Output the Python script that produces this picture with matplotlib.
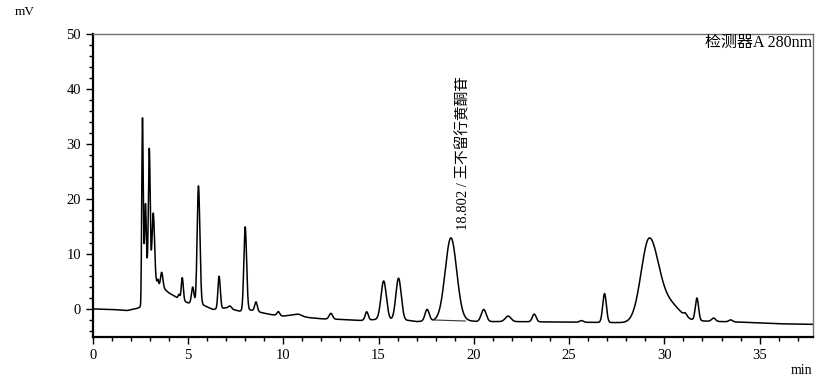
import numpy as np
import matplotlib
matplotlib.use("Agg")
import matplotlib.pyplot as plt
from matplotlib.ticker import MultipleLocator

# ---- data ----
# baseline drift knots (min, mV)
base_t = [0.0, 1.0, 1.8, 2.35, 2.52, 2.62, 3.0, 3.3, 3.6, 4.0, 4.5, 5.0, 5.4, 5.8, 6.3,
          7.0, 7.7, 8.3, 8.9, 9.3, 10.0, 10.5, 11.4, 12.0, 13.0, 14.0, 15.0, 16.6, 17.0,
          18.0, 19.6, 20.2, 22.0, 25.0, 28.0, 30.0, 32.0, 34.0, 36.0, 37.8]
base_v = [0.1, 0.0, -0.2, 0.2, 0.5, 7.0, 7.5, 5.0, 4.2, 3.0, 2.0, 1.2, 1.0, 0.8, 0.0,
          0.3, -0.3, -0.1, -0.6, -0.9, -1.2, -1.0, -1.5, -1.7, -1.8, -2.0, -1.8, -2.0, -2.2,
          -2.0, -2.0, -2.2, -2.2, -2.3, -2.4, -2.3, -2.1, -2.3, -2.6, -2.7]

# peak table: retention time (min), height above baseline (mV), left / right width (min)
peak_rt = [2.61, 2.77, 2.97, 3.18, 3.42, 3.62, 4.53, 4.70, 5.25, 5.55, 6.63, 7.20,
           8.00, 8.57, 9.74, 10.80, 12.50, 14.38, 15.27, 16.05, 17.55, 18.80, 20.52,
           21.80, 23.17, 25.65, 26.86, 29.20, 30.30, 31.10, 31.71, 32.58, 33.48]
peak_h = [28.3, 12.0, 21.8, 11.5, 0.8, 2.6, 0.8, 4.1, 3.0, 21.5, 5.9, 0.5,
          15.2, 1.7, 0.7, 0.3, 1.05, 1.5, 7.0, 7.6, 2.1, 15.0, 2.2,
          1.0, 1.4, 0.3, 5.25, 14.9, 3.0, 0.5, 4.1, 0.6, 0.35]
peak_wl = [0.035, 0.040, 0.045, 0.060, 0.030, 0.055, 0.045, 0.050, 0.065, 0.068, 0.058, 0.08,
           0.068, 0.070, 0.070, 0.15, 0.09, 0.08, 0.14, 0.14, 0.11, 0.30, 0.13,
           0.15, 0.10, 0.10, 0.095, 0.42, 0.55, 0.08, 0.085, 0.10, 0.10]
peak_wr = [0.040, 0.040, 0.045, 0.065, 0.030, 0.065, 0.045, 0.055, 0.065, 0.075, 0.065, 0.08,
           0.075, 0.070, 0.070, 0.15, 0.09, 0.08, 0.14, 0.14, 0.11, 0.30, 0.13,
           0.15, 0.10, 0.10, 0.095, 0.49, 0.55, 0.08, 0.085, 0.10, 0.10]

# integration baseline under the labelled peak
intg_t = [17.85, 19.55]
intg_v = [-1.9, -2.1]

label_rt = 18.802
label_txt = "18.802 / 王不留行黄酮苷"

x_ticks = [0, 5, 10, 15, 20, 25, 30, 35]
y_ticks = [0, 10, 20, 30, 40, 50]

# ---- build trace ----
t = np.linspace(0, 37.8, 8000)
v = np.interp(t, base_t, base_v)
for rt, h, wl, wr in zip(peak_rt, peak_h, peak_wl, peak_wr):
    w = np.where(t < rt, wl, wr)
    v = v + h * np.exp(-0.5 * ((t - rt) / w) ** 2)

fig = plt.figure(figsize=(8.26, 3.83), dpi=100)
ax = fig.add_axes([92.7 / 826, 1 - 337 / 383, (813 - 92.7) / 826, (337 - 34) / 383])
ax.plot(t, v, color="black", lw=1.1)
ax.plot(intg_t, intg_v, color="#333333", lw=0.8)

ax.set_xlim(0, 37.8)
ax.set_ylim(-5, 50)
ax.set_xticks(x_ticks)
ax.set_yticks(y_ticks)
ax.xaxis.set_minor_locator(MultipleLocator(1))
ax.yaxis.set_minor_locator(MultipleLocator(2))
ax.tick_params(which="major", direction="out", length=5, width=1.0, colors="black",
               labelsize=10.5)
ax.tick_params(which="minor", direction="out", length=3, width=1.0, colors="black")
for lab in ax.get_xticklabels() + ax.get_yticklabels():
    lab.set_family("Liberation Serif")
for s in ["left", "bottom"]:
    ax.spines[s].set_linewidth(1.6)
    ax.spines[s].set_color("black")
for s in ["top", "right"]:
    ax.spines[s].set_linewidth(1.0)
    ax.spines[s].set_color("#707070")

fig.text(15 / 826, 1 - 12 / 383, "mV", family="Liberation Serif", fontsize=9.5,
         va="center", ha="left")
fig.text(812 / 826, 1 - 371 / 383, "min", family="Liberation Serif", fontsize=10,
         va="center", ha="right")
fig.text(812 / 826, 1 - 43 / 383, "检测器A 280nm",
         family=["Liberation Serif", "Noto Sans CJK SC"], fontsize=11.5,
         va="center", ha="right")
ax.text(label_rt + 0.62, 14.5, label_txt, rotation=90, ha="center", va="bottom",
        family=["Liberation Serif", "Noto Sans CJK SC"], fontsize=10.5)

fig.savefig("out.png", dpi=100)
